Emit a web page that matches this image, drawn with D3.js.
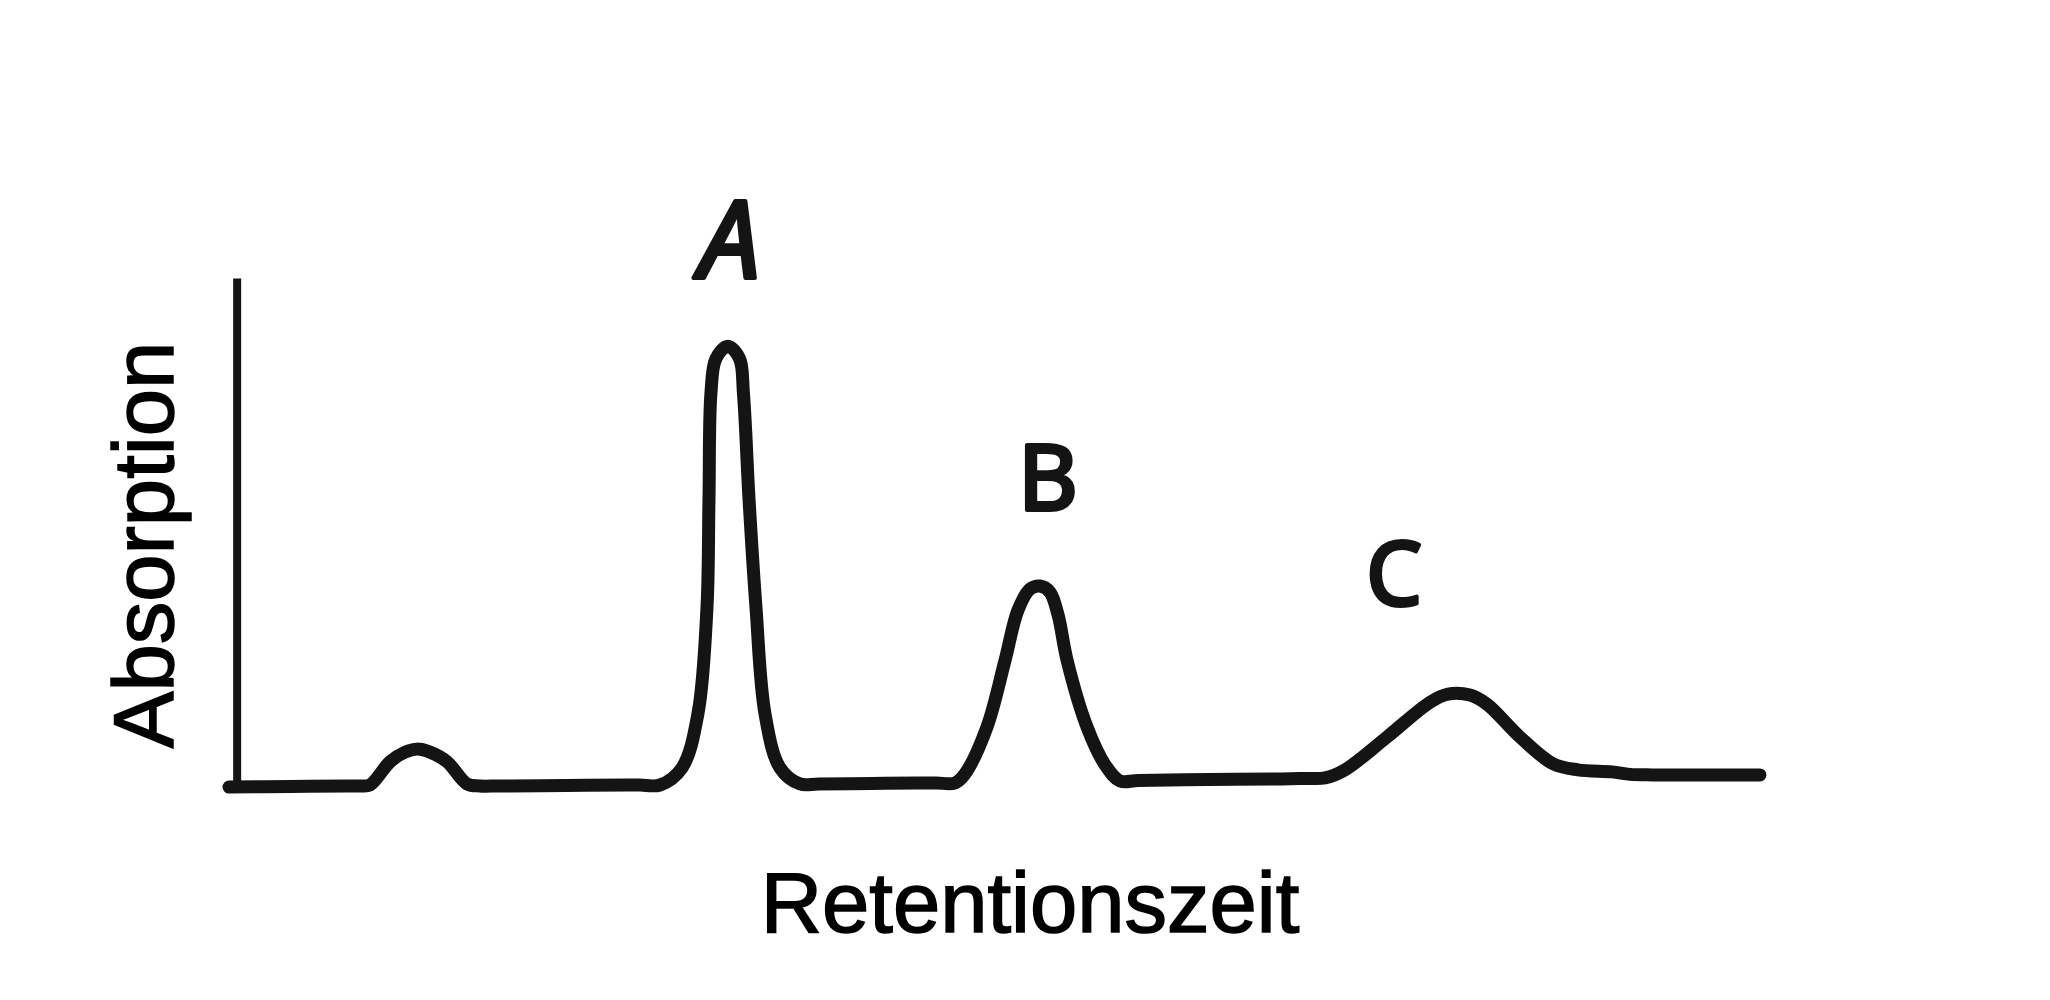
<!DOCTYPE html>
<html><head><meta charset="utf-8">
<script src="https://cdn.jsdelivr.net/npm/d3@7"></script>
<style>html,body{margin:0;padding:0;background:#fff;} svg{display:block}</style>
</head><body>
<svg id="chart" width="2050" height="1000"></svg>
<script>
// Chromatogram trace (arbitrary units 0..100)
const retentionTime = [
  0, 4.0, 7.6, 8.56,
  9.21, 10.52, 11.50, 12.28, 13.13, 14.24, 15.55, 16.39, 17.6,
  22.0, 26.0, 26.85,
  28.15, 29.59, 30.63, 31.22, 31.35, 31.48, 31.80, 32.59, 33.35, 33.60, 33.97, 34.42, 35.01, 35.99, 37.30, 38.5,
  42.0, 45.0, 46.2,
  47.42, 48.07, 49.51, 50.69, 51.53, 52.32, 52.97, 53.62, 54.15, 54.74, 56.04, 57.22, 58.20, 59.4,
  64.0, 68.8, 70.3,
  71.59, 72.89, 75.64, 78.45, 79.62, 81.06, 82.17, 84.32, 86.48, 88.11, 90.33, 91.51, 93.0,
  96.5, 100
];
const absorption = [
  0, 0.1, 0.2, 0.2,
  0.4, 5.0, 6.9, 7.5, 6.9, 5.0, 0.6, 0.2, 0.2,
  0.3, 0.4, 0.4,
  0.4, 3.8, 14.5, 35.6, 56.8, 78.0, 84.8, 87.3, 84.8, 78.0, 56.8, 35.6, 14.5, 3.8, 0.6, 0.6,
  0.7, 0.8, 0.8,
  0.8, 2.6, 11.9, 25.1, 35.0, 39.2, 39.8, 38.6, 34.1, 25.1, 11.9, 4.4, 1.2, 1.3,
  1.5, 1.6, 1.7,
  1.8, 3.4, 9.9, 16.8, 18.4, 18.2, 16.4, 9.9, 4.6, 3.4, 3.0, 2.5, 2.4,
  2.4, 2.4
];
const peakNames = ["A", "B", "C"];
const peakLabelTime = [32.72, 53.49, 76.09];
const peakLabelAbs = [100.8, 54.9, 36.0];
const xTitle = "Retentionszeit";
const yTitle = "Absorption";

const svg = d3.select("#chart");
const ink = "#141414";

const x = d3.scaleLinear().domain([0, 100]).range([229, 1760]);
const y = d3.scaleLinear().domain([0, 100]).range([787, 282]);

// y axis (no ticks)
const yAxis = d3.axisLeft(y).tickValues([]).tickSizeOuter(0);
const gy = svg.append("g").attr("transform", `translate(${x(0.5)},0)`).call(yAxis);
gy.select(".domain").attr("stroke", ink).attr("stroke-width", 8).attr("stroke-linecap", "square");

// trace
const pts = retentionTime.map((t, i) => [t, absorption[i]]);
const line = d3.line().x(d => x(d[0])).y(d => y(d[1])).curve(d3.curveCatmullRom.alpha(0.5));
svg.append("path")
  .attr("d", line(pts))
  .attr("fill", "none")
  .attr("stroke", ink)
  .attr("stroke-width", 13)
  .attr("stroke-linejoin", "round")
  .attr("stroke-linecap", "round");

// peak labels
const labelSizes = [108, 92, 88];
svg.selectAll("text.peak").data(peakNames).join("text")
  .attr("class", "peak")
  .attr("x", (d, i) => x(peakLabelTime[i]))
  .attr("y", (d, i) => y(peakLabelAbs[i]))
  .attr("text-anchor", "middle")
  .attr("font-family", "'Noto Sans', sans-serif")
  .attr("font-style", (d, i) => i === 0 ? "italic" : "normal")
  .attr("font-size", (d, i) => labelSizes[i])
  .attr("fill", ink)
  .attr("stroke", ink)
  .attr("stroke-width", 4)
  .attr("stroke-linejoin", "round")
  .text(d => d);

// axis titles
svg.append("text")
  .attr("x", 1030).attr("y", 932)
  .attr("text-anchor", "middle")
  .attr("font-family", "'Liberation Sans', Arial, sans-serif")
  .attr("font-size", 85)
  .attr("fill", "#000")
  .attr("stroke", "#000")
  .attr("stroke-width", 1.5)
  .text(xTitle);

svg.append("text")
  .attr("transform", "translate(173,545) rotate(-90)")
  .attr("text-anchor", "middle")
  .attr("font-family", "'Liberation Sans', Arial, sans-serif")
  .attr("font-size", 85)
  .attr("fill", "#000")
  .attr("stroke", "#000")
  .attr("stroke-width", 1.5)
  .text(yTitle);
</script>
</body></html>
